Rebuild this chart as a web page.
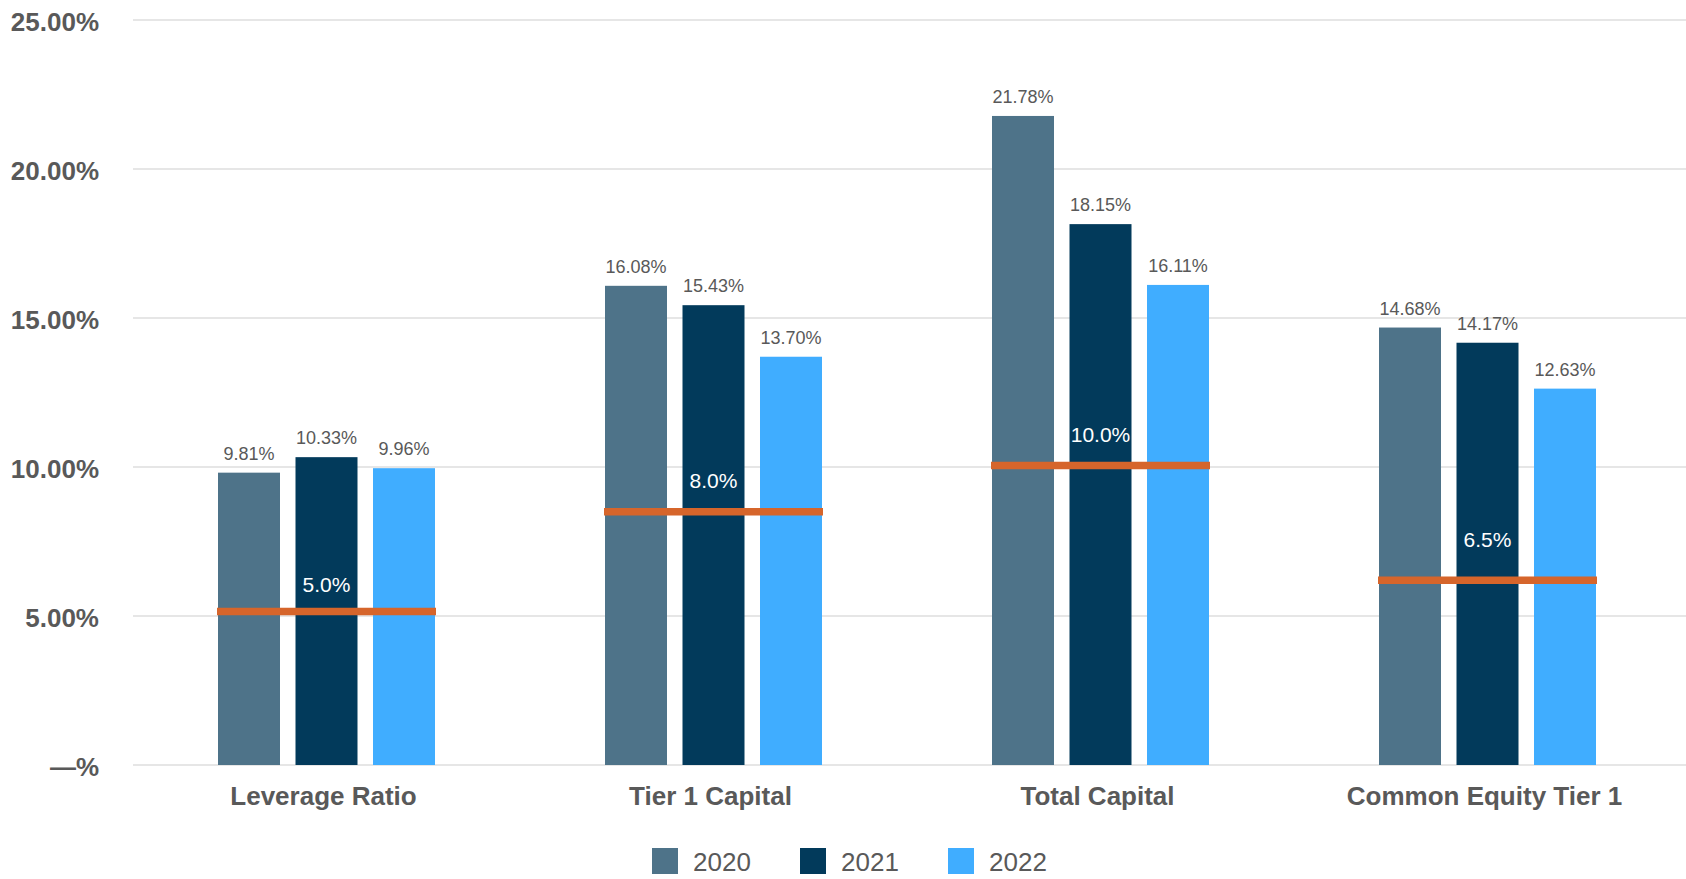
<!DOCTYPE html>
<html>
<head>
<meta charset="utf-8">
<script src="https://cdn.jsdelivr.net/npm/d3@7"></script>
<style>
  body { margin: 0; background: #fff; }
  text { font-family: "Liberation Sans", Arial, sans-serif; }
</style>
</head>
<body>
<div id="chart"></div>
<script>
// data
const categories = ['Leverage Ratio', 'Tier 1 Capital', 'Total Capital', 'Common Equity Tier 1'];
const years = ['2020', '2021', '2022'];
const values2020 = [9.81, 16.08, 21.78, 14.68];
const values2021 = [10.33, 15.43, 18.15, 14.17];
const values2022 = [9.96, 13.70, 16.11, 12.63];
// regulatory minimum lines (position as drawn) and their labels
const minimumValues = [5.15, 8.5, 10.05, 6.2];
const minimumLabels = ['5.0%', '8.0%', '10.0%', '6.5%'];
const minimumLabelPos = [5.8, 9.3, 10.85, 7.3];
const yTicks = [0, 5, 10, 15, 20, 25];

const seriesValues = [values2020, values2021, values2022];
const colors = ['#4e7389', '#023a5b', '#40adff'];
const textColor = '#595959';

const width = 1686;
const height = 879;
const plotLeft = 133;
const plotRight = 1681;
const yZero = 765;
const yTop = 20;

const svg = d3
    .select('#chart')
    .append('svg')
    .attr('width', width)
    .attr('height', height);

// scales
const x0 = d3
    .scaleBand()
    .domain(categories)
    .range([plotLeft, plotRight])
    .padding(0);

const groupWidth = 217;
const x1 = d3
    .scaleBand()
    .domain(years)
    .range([0, groupWidth])
    .paddingInner(0.2)
    .paddingOuter(0);

const groupOffset = (x0.bandwidth() - groupWidth) / 2;

const y = d3
    .scaleLinear()
    .domain([0, 25])
    .range([yZero, yTop]);

// gridlines
svg.append('g')
    .selectAll('line')
    .data(yTicks)
    .enter()
    .append('line')
    .attr('x1', plotLeft)
    .attr('x2', width)
    .attr('y1', (d) => y(d))
    .attr('y2', (d) => y(d))
    .attr('stroke', '#e6e6e6')
    .attr('stroke-width', 2);

// y labels
svg.append('g')
    .selectAll('text')
    .data(yTicks)
    .enter()
    .append('text')
    .attr('x', 99)
    .attr('y', (d) => y(d) + 11)
    .attr('text-anchor', 'end')
    .attr('font-size', 26)
    .attr('font-weight', 'bold')
    .attr('fill', textColor)
    .text((d) => (d === 0 ? '\u2014%' : d.toFixed(2) + '%'));

// bars
const groups = svg
    .selectAll('.group')
    .data(categories)
    .enter()
    .append('g')
    .attr('class', 'group')
    .attr('transform', (d) => `translate(${x0(d) + groupOffset},0)`);

years.forEach((year, s) => {
    groups
        .append('rect')
        .attr('x', x1(year))
        .attr('y', (d, i) => y(seriesValues[s][i]))
        .attr('width', x1.bandwidth())
        .attr('height', (d, i) => y(0) - y(seriesValues[s][i]))
        .attr('fill', colors[s]);

    groups
        .append('text')
        .attr('x', x1(year) + x1.bandwidth() / 2)
        .attr('y', (d, i) => y(seriesValues[s][i]) - 13)
        .attr('text-anchor', 'middle')
        .attr('font-size', 18)
        .attr('fill', textColor)
        .text((d, i) => seriesValues[s][i].toFixed(2) + '%');
});

// minimum lines
groups
    .append('line')
    .attr('x1', x1('2020') - 1)
    .attr('x2', x1('2022') + x1.bandwidth() + 1)
    .attr('y1', (d, i) => y(minimumValues[i]))
    .attr('y2', (d, i) => y(minimumValues[i]))
    .attr('stroke', '#d6652b')
    .attr('stroke-width', 7.5);

groups
    .append('text')
    .attr('x', x1('2021') + x1.bandwidth() / 2)
    .attr('y', (d, i) => y(minimumLabelPos[i]))
    .attr('text-anchor', 'middle')
    .attr('font-size', 21)
    .attr('fill', '#ffffff')
    .text((d, i) => minimumLabels[i]);

// x labels
svg.append('g')
    .selectAll('text')
    .data(categories)
    .enter()
    .append('text')
    .attr('x', (d) => x0(d) + x0.bandwidth() / 2 - 3)
    .attr('y', 805)
    .attr('text-anchor', 'middle')
    .attr('font-size', 26)
    .attr('font-weight', 'bold')
    .attr('fill', textColor)
    .text((d) => d);

// legend
const legend = svg
    .append('g')
    .attr('transform', 'translate(652,848)');

const legendItems = legend
    .selectAll('g')
    .data(years)
    .enter()
    .append('g')
    .attr('transform', (d, i) => `translate(${i * 148},0)`);

legendItems
    .append('rect')
    .attr('width', 26)
    .attr('height', 26)
    .attr('fill', (d, i) => colors[i]);

legendItems
    .append('text')
    .attr('x', 41)
    .attr('y', 23)
    .attr('font-size', 26)
    .attr('fill', textColor)
    .text((d) => d);
</script>
</body>
</html>
